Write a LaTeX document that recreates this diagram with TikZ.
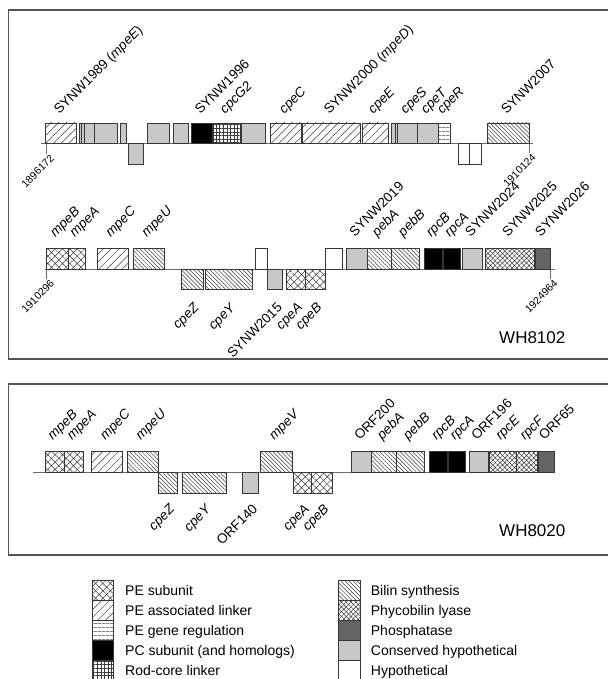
\documentclass[tikz,border=0pt]{standalone}
\usepackage{fontspec}
\setmainfont{Liberation Sans}
\usetikzlibrary{patterns.meta}
\definecolor{cons}{RGB}{200,200,200}
\definecolor{phos}{RGB}{100,100,100}
\definecolor{outl}{RGB}{55,55,55}
\definecolor{basel}{RGB}{110,110,110}
\definecolor{framec}{RGB}{85,85,85}
\definecolor{hatchc}{RGB}{60,60,60}
\newcommand\geneup[5]{\node[gene,#4,minimum width={#3pt-#2pt},anchor=south west] (#1) at (#2,#5) {};}
\newcommand\genedown[5]{\node[gene,#4,minimum width={#3pt-#2pt},anchor=north west] (#1) at (#2,#5) {};}
\newcommand\labup[3]{\node[lab,anchor=base west] (#1l) at ([xshift=-2pt,yshift=#3]#1.north) {#2};}
\newcommand\labdown[3]{\node[lab,anchor=north east] (#1l) at ([xshift=1pt,yshift=#3]#1.south) {#2};}
\tikzset{
  gene/.style={draw=outl,line width=0.6pt,inner sep=0pt,outer sep=0pt,minimum height=20.6pt},
  lab/.style={rotate=45,inner sep=0pt,font=\fontsize{13.5}{16}\selectfont},
  numlab/.style={rotate=45,inner sep=0pt,anchor=north east,font=\fontsize{10.5}{12}\selectfont},
  strain/.style={inner sep=0pt,anchor=base west,font=\fontsize{17}{20}\selectfont},
  legtext/.style={inner sep=0pt,anchor=base west,font=\fontsize{14}{17}\selectfont},
  chrom/.style={draw=basel,line width=0.8pt},
  tick/.style={draw=basel,line width=0.6pt},
  panel/.style={draw=framec,line width=1.3pt},
  cons/.style={fill=cons},
  hypo/.style={fill=white},
  black/.style={fill=black},
  phos/.style={fill=phos},
  linker/.style={pattern={Lines[angle=45,distance=5.5pt,line width=0.5pt]},pattern color=hatchc},
  bilin/.style={pattern={Lines[angle=-45,distance=2.9pt,line width=0.5pt]},pattern color=hatchc},
  pesub/.style={pattern={Hatch[angle=45,distance=5.2pt,line width=0.5pt]},pattern color=hatchc},
  lyase/.style={pattern={Hatch[angle=45,distance=3.4pt,line width=0.5pt]},pattern color=hatchc},
  generg/.style={pattern={Lines[angle=0,distance=4pt,line width=0.5pt]},pattern color=hatchc},
  rodcore/.style={pattern={Hatch[angle=0,distance=3.6pt,line width=0.5pt]},pattern color=hatchc},
}
\begin{document}
\begin{tikzpicture}[x=1pt,y=-1pt]
\useasboundingbox (0,0) rectangle (607,679);
\fill[white] (0,0) rectangle (607,679);
% panels
\draw[panel] (8.3,10) rectangle (615,359);
\draw[panel] (8.3,384) rectangle (615,555);
% ===== row 1 =====
\def\R{143.5}
\coordinate (r1s) at (40.7,\R); \coordinate (r1e) at (533,\R);
\draw[chrom] (r1s) -- (r1e);
\coordinate (t1a) at (46.5,\R); \coordinate (t1b) at (46.5,154);
\draw[tick] (t1a) -- (t1b);
\node[numlab] (n1) at ([xshift=3pt]t1b) {1896172};
\coordinate (t2a) at (529.3,\R); \coordinate (t2b) at (529.3,153);
\draw[tick] (t2a) -- (t2b);
\node[numlab] (n2) at ([xshift=2pt]t2b) {1910124};
\geneup{a1}{45.7}{76.7}{linker}{\R}
\geneup{a2}{79.3}{81.2}{cons}{\R}
\geneup{a3}{81.2}{84}{cons}{\R}
\geneup{a4}{84}{94}{cons}{\R}
\geneup{a5}{94.5}{116.8}{cons}{\R}
\geneup{a6}{120.7}{126.5}{cons}{\R}
\genedown{a7}{128.7}{143.3}{cons}{\R}
\geneup{a8}{147.7}{169.3}{cons}{\R}
\geneup{a9}{173.3}{188.7}{cons}{\R}
\geneup{a10}{191.7}{212.7}{black}{\R}
\geneup{a11}{213.3}{240.7}{rodcore}{\R}
\geneup{a12}{241.7}{265.7}{cons}{\R}
\geneup{a13}{270.7}{301.7}{linker}{\R}
\geneup{a14}{302.7}{360}{linker}{\R}
\geneup{a15}{362.3}{388.3}{linker}{\R}
\geneup{a16}{391.7}{395.7}{cons}{\R}
\geneup{a17}{395.7}{397.7}{cons}{\R}
\geneup{a18}{397.7}{417.5}{cons}{\R}
\geneup{a19}{417.5}{438.3}{cons}{\R}
\geneup{a20}{438.3}{450}{generg}{\R}
\genedown{a21}{458.3}{469.3}{hypo}{\R}
\genedown{a22}{469.3}{481.7}{hypo}{\R}
\geneup{a23}{487.7}{529.3}{bilin}{\R}
\labup{a1}{SYNW1989 (\textit{mpeE})}{8pt}
\labup{a10}{SYNW1996}{8pt}
\labup{a11}{\textit{cpcG2}}{8pt}
\labup{a13}{\textit{cpeC}}{8pt}
\labup{a14}{SYNW2000 (\textit{mpeD})}{8pt}
\labup{a15}{\textit{cpeE}}{8pt}
\labup{a18}{\textit{cpeS}}{8pt}
\labup{a19}{\textit{cpeT}}{8pt}
\labup{a20}{\textit{cpeR}}{8pt}
\labup{a23}{SYNW2007}{8pt}
% ===== row 2 =====
\def\R{269}
\coordinate (r2s) at (45,\R); \coordinate (r2e) at (555.3,\R);
\draw[chrom] (r2s) -- (r2e);
\coordinate (t3a) at (46.7,\R); \coordinate (t3b) at (46.7,279);
\draw[tick] (t3a) -- (t3b);
\node[numlab] (n3) at ([xshift=3pt]t3b) {1910296};
\coordinate (t4a) at (550,\R); \coordinate (t4b) at (550,279);
\draw[tick] (t4a) -- (t4b);
\node[numlab] (n4) at ([xshift=3pt]t4b) {1924964};
\geneup{b1}{46.7}{68}{pesub}{\R}
\geneup{b2}{68}{85.7}{pesub}{\R}
\geneup{b3}{97.3}{128}{linker}{\R}
\geneup{b4}{133.3}{164.3}{bilin}{\R}
\genedown{b5}{181}{203.3}{bilin}{\R}
\genedown{b6}{205.3}{252}{bilin}{\R}
\geneup{b7}{255.7}{267.7}{hypo}{\R}
\genedown{b8}{267.7}{282.7}{cons}{\R}
\genedown{b9}{286}{305}{pesub}{\R}
\genedown{b10}{305}{325}{pesub}{\R}
\geneup{b11}{325}{342.3}{hypo}{\R}
\geneup{b12}{346}{367.3}{cons}{\R}
\geneup{b13}{367.3}{391}{bilin}{\R}
\geneup{b14}{391.7}{419}{bilin}{\R}
\geneup{b15}{424}{442.3}{black}{\R}
\geneup{b16}{443.3}{460.3}{black}{\R}
\geneup{b17}{462.3}{482.7}{cons}{\R}
\geneup{b18}{485.3}{534.3}{lyase}{\R}
\geneup{b19}{535}{550}{phos}{\R}
\labup{b1}{\textit{mpeB}}{11pt}
\labup{b2}{\textit{mpeA}}{11pt}
\labup{b3}{\textit{mpeC}}{11pt}
\labup{b4}{\textit{mpeU}}{11pt}
\labup{b12}{SYNW2019}{11pt}
\labup{b13}{\textit{pebA}}{11pt}
\labup{b14}{\textit{pebB}}{11pt}
\labup{b15}{\textit{rpcB}}{11pt}
\labup{b16}{\textit{rpcA}}{11pt}
\labup{b17}{SYNW2024}{11pt}
\labup{b18}{SYNW2025}{11pt}
\labup{b19}{SYNW2026}{11pt}
\labdown{b5}{\textit{cpeZ}}{-12pt}
\labdown{b6}{\textit{cpeY}}{-12pt}
\labdown{b8}{SYNW2015}{-12pt}
\labdown{b9}{\textit{cpeA}}{-12pt}
\labdown{b10}{\textit{cpeB}}{-12pt}
\node[strain] (s1) at (499,343.3) {WH8102};
% ===== row 3 =====
\def\R{472.3}
\coordinate (r3s) at (33.3,\R); \coordinate (r3e) at (555,\R);
\draw[chrom] (r3s) -- (r3e);
\geneup{c1}{45}{64.7}{pesub}{\R}
\geneup{c2}{64.7}{83.3}{pesub}{\R}
\geneup{c3}{91.7}{122.7}{linker}{\R}
\geneup{c4}{127.3}{158.3}{bilin}{\R}
\genedown{c5}{158.3}{177.7}{bilin}{\R}
\genedown{c6}{182.3}{226}{bilin}{\R}
\genedown{c7}{242.7}{258.3}{cons}{\R}
\geneup{c8}{260}{292.3}{bilin}{\R}
\genedown{c9}{293.3}{311.7}{pesub}{\R}
\genedown{c10}{311.7}{332.3}{pesub}{\R}
\geneup{c11}{351.7}{371.7}{cons}{\R}
\geneup{c12}{371.7}{396.7}{bilin}{\R}
\geneup{c13}{396.7}{424}{bilin}{\R}
\geneup{c14}{429.3}{447.7}{black}{\R}
\geneup{c15}{448.3}{465.7}{black}{\R}
\geneup{c16}{469}{488.3}{cons}{\R}
\geneup{c17}{489}{516.3}{lyase}{\R}
\geneup{c18}{516.3}{537.7}{lyase}{\R}
\geneup{c19}{538.3}{554.3}{phos}{\R}
\labup{c1}{\textit{mpeB}}{11pt}
\labup{c2}{\textit{mpeA}}{11pt}
\labup{c3}{\textit{mpeC}}{11pt}
\labup{c4}{\textit{mpeU}}{11pt}
\labup{c8}{\textit{mpeV}}{11pt}
\labup{c11}{ORF200}{11pt}
\labup{c12}{\textit{pebA}}{11pt}
\labup{c13}{\textit{pebB}}{11pt}
\labup{c14}{\textit{rpcB}}{11pt}
\labup{c15}{\textit{rpcA}}{11pt}
\labup{c16}{ORF196}{11pt}
\labup{c17}{\textit{rpcE}}{11pt}
\labup{c18}{\textit{rpcF}}{11pt}
\labup{c19}{ORF65}{11pt}
\labdown{c5}{\textit{cpeZ}}{-10pt}
\labdown{c6}{\textit{cpeY}}{-10pt}
\labdown{c7}{ORF140}{-10pt}
\labdown{c9}{\textit{cpeA}}{-10pt}
\labdown{c10}{\textit{cpeB}}{-10pt}
\node[strain] (s2) at (499,536.7) {WH8020};
% ===== legend =====
\foreach \i/\st/\tx [count=\k from 0] in {1/pesub/PE subunit,2/linker/PE associated linker,3/generg/PE gene regulation,4/black/PC subunit (and homologs),5/rodcore/Rod-core linker}{
  \node[gene,\st,minimum width=21pt,minimum height=20pt,anchor=north west] (kl\i) at (92.3,580+20*\k) {};
  \node[legtext] (tl\i) at (125,595.5+20*\k) {\tx};
}
\foreach \i/\st/\tx [count=\k from 0] in {1/bilin/Bilin synthesis,2/lyase/Phycobilin lyase,3/phos/Phosphatase,4/cons/Conserved hypothetical,5/hypo/Hypothetical}{
  \node[gene,\st,minimum width=21.7pt,minimum height=20pt,anchor=north west] (kr\i) at (338.3,580+20*\k) {};
  \node[legtext] (tr\i) at (370.7,595.5+20*\k) {\tx};
}
\end{tikzpicture}
\end{document}
